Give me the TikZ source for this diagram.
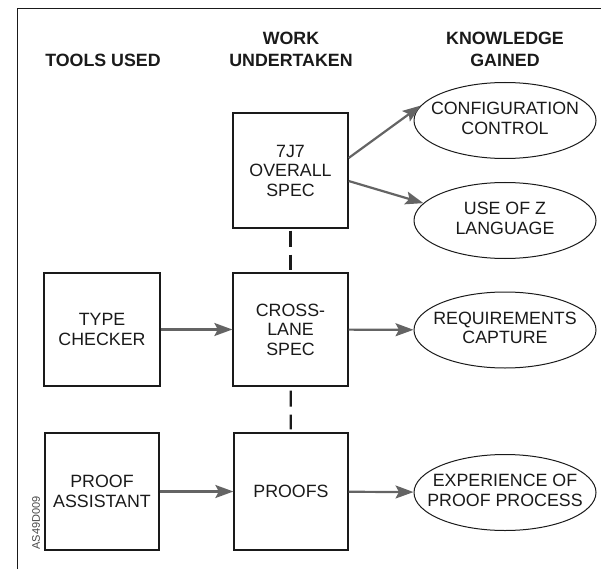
\documentclass[tikz,border=0pt]{standalone}
\usepackage{fontspec}
\setmainfont{Liberation Sans}
\usetikzlibrary{arrows.meta,shapes.geometric}
\definecolor{ink}{HTML}{1A1A1A}
\definecolor{arrowgray}{HTML}{646464}
\tikzset{
  hdr/.style={font=\fontsize{17.8}{22}\selectfont\bfseries, text=ink, align=center, inner sep=0pt},
  boxnode/.style={draw=ink, line width=1.3pt, inner sep=0pt, text=ink, align=center,
    font=\fontsize{17.8}{19.5}\selectfont},
  oval/.style={draw=ink, line width=1pt, ellipse, inner sep=0pt, minimum width=182pt,
    minimum height=76pt, text=ink, font=\fontsize{17.8}{19.5}\selectfont},
  arr/.style={draw=arrowgray, line width=2.2pt,
    -{Stealth[length=18pt, width=13pt, inset=3.5pt, fill=arrowgray]}},
  dashlink/.style={draw=ink, line width=2.2pt, dash pattern=on 16pt off 8pt}
}
\newcommand{\ovaltext}[1]{\makebox[0pt][c]{\begin{tabular}{@{}c@{}}#1\end{tabular}}}
\begin{document}
\begin{tikzpicture}[x=1pt, y=-1pt]
\useasboundingbox (0,0) rectangle (601,569);
% frame
\coordinate (fbl) at (17.5,569);
\coordinate (ftl) at (17.5,8.5);
\coordinate (ftr) at (601,8.5);
\draw[ink, line width=1.3pt] (fbl) -- (ftl) -- (ftr);
% headers
\node[hdr] (h1) at (103,60) {TOOLS USED};
\node[hdr] (h2) at (291,49) {WORK\\UNDERTAKEN};
\node[hdr] (h3) at (505,49) {KNOWLEDGE\\GAINED};
% boxes
\node[boxnode, minimum width=115pt, minimum height=115pt] (spec) at (290.5,170.5) {7J7\\OVERALL\\SPEC};
\node[boxnode, minimum width=115pt, minimum height=113pt] (cross) at (290.5,329.5) {CROSS-\\LANE\\SPEC};
\node[boxnode, minimum width=114pt, minimum height=117pt] (proofs) at (291,491.5) {PROOFS};
\node[boxnode, minimum width=116pt, minimum height=113pt] (type) at (102,329.5) {TYPE\\CHECKER};
\node[boxnode, minimum width=114pt, minimum height=117pt] (assist) at (102,491.5) {PROOF\\ASSISTANT};
% ellipses
\node[oval] (e1) at (505,120.5) {\ovaltext{CONFIGURATION\\CONTROL}};
\node[oval] (e2) at (505,220.5) {\ovaltext{USE OF Z\\LANGUAGE}};
\node[oval] (e3) at (505,330) {\ovaltext{REQUIREMENTS\\CAPTURE}};
\node[oval] (e4) at (505,492.5) {\ovaltext{EXPERIENCE OF\\PROOF PROCESS}};
% code
\node[rotate=90, font=\fontsize{11}{11}\selectfont, text=ink!80, inner sep=0pt] (code) at (36,523) {AS49D009};
% arrows
\draw[arr] ([yshift=12.5pt]spec.east) -- (e1.170);
\draw[arr] ([yshift=-10.5pt]spec.east) -- (e2.168);
\draw[arr] (type) -- (cross);
\draw[arr] (cross) -- (e3);
\draw[arr] (assist) -- (proofs);
\draw[arr] (proofs) -- (e4);
% dashed links
\draw[dashlink, shorten <=2pt, shorten >=2pt] (spec) -- (cross);
\draw[dashlink, shorten <=4pt, shorten >=3pt] (cross) -- (proofs);
\end{tikzpicture}
\end{document}
